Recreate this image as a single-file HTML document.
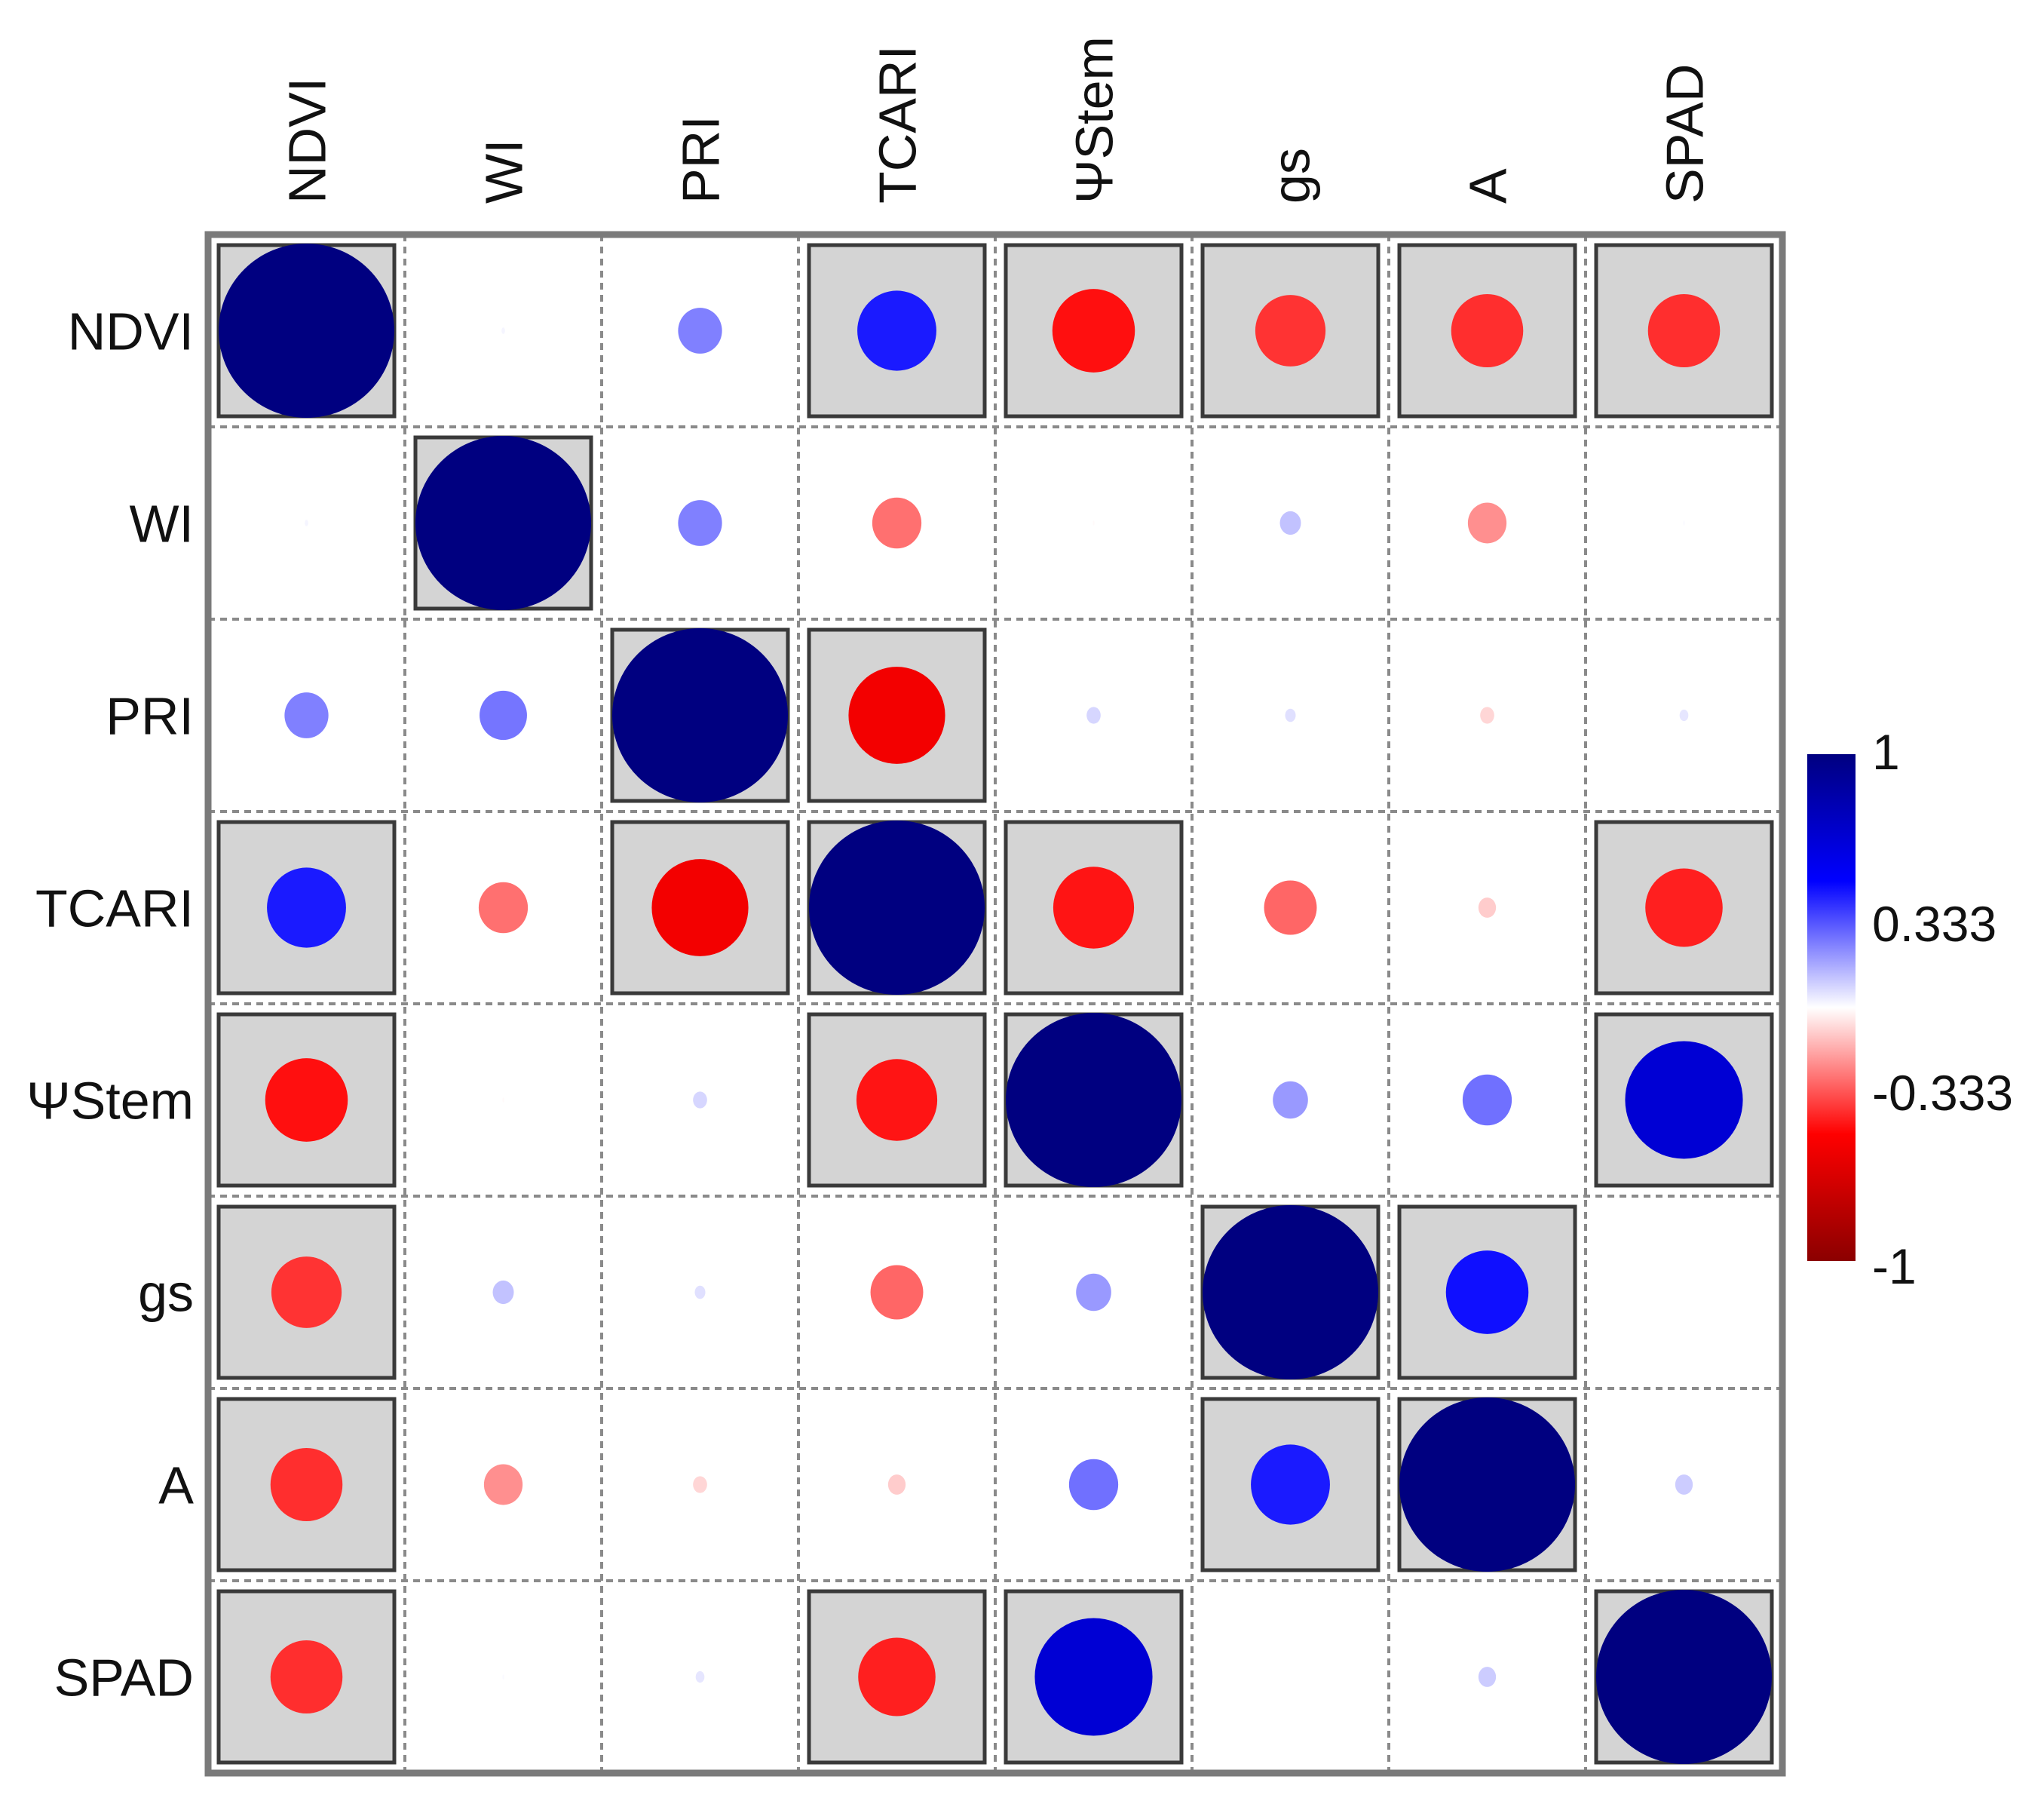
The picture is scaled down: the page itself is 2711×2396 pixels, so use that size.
<!DOCTYPE html>
<html><head><meta charset="utf-8"><style>
html,body{margin:0;padding:0;background:#fff;}
svg{display:block;}
text{font-family:"Liberation Sans",Arial,sans-serif;fill:#111;}
</style></head><body>
<svg id="chart" width="2711" height="2396" viewBox="0 0 2711 2396" xmlns="http://www.w3.org/2000/svg"></svg>
<script>
const labels = ["NDVI","WI","PRI","TCARI","\u03A8Stem","gs","A","SPAD"];
const rowNDVI  = [1, 0.02, 0.25, 0.45, -0.47, -0.40, -0.41, -0.41];
const rowWI    = [0.02, 1, 0.25, -0.28, -0.01, 0.12, -0.22, 0.01];
const rowPRI   = [0.25, 0.27, 1, -0.55, 0.08, 0.06, -0.08, 0.05];
const rowTCARI = [0.45, -0.28, -0.55, 1, -0.46, -0.30, -0.10, -0.44];
const rowStem  = [-0.47, -0.01, 0.08, -0.46, 1, 0.20, 0.28, 0.67];
const rowGs    = [-0.40, 0.12, 0.06, -0.30, 0.20, 1, 0.47, 0.00];
const rowA     = [-0.41, -0.22, -0.08, -0.10, 0.28, 0.45, 1, 0.10];
const rowSPAD  = [-0.41, 0.01, 0.05, -0.44, 0.67, 0.00, 0.10, 1];
const sigNDVI  = [1,0,0,1,1,1,1,1];
const sigWI    = [0,1,0,0,0,0,0,0];
const sigPRI   = [0,0,1,1,0,0,0,0];
const sigTCARI = [1,0,1,1,1,0,0,1];
const sigStem  = [1,0,0,1,1,0,0,1];
const sigGs    = [1,0,0,0,0,1,1,0];
const sigA     = [1,0,0,0,0,1,1,0];
const sigSPAD  = [1,0,0,1,1,0,0,1];
const legendTicks = [1, 0.333, -0.333, -1];
const legendTickLabels = ["1","0.333","-0.333","-1"];

const corr = [rowNDVI,rowWI,rowPRI,rowTCARI,rowStem,rowGs,rowA,rowSPAD];
const sig = [sigNDVI,sigWI,sigPRI,sigTCARI,sigStem,sigGs,sigA,sigSPAD];

const NS="http://www.w3.org/2000/svg";
const svg=document.getElementById('chart');
const X0=276, Y0=311, CW=261, CH=255, N=labels.length;
const xPos=i=>X0+i*CW, yPos=i=>Y0+i*CH;
function mk(tag,attrs,parent){const e=document.createElementNS(NS,tag);for(const k in attrs)e.setAttribute(k,attrs[k]);(parent||svg).appendChild(e);return e;}
const stops=[[-1,[139,0,0]],[-0.5,[255,0,0]],[0,[255,255,255]],[0.5,[0,0,255]],[1,[0,0,128]]];
function color(v){v=Math.max(-1,Math.min(1,v));for(let i=0;i<stops.length-1;i++){const a=stops[i],b=stops[i+1];if(v>=a[0]&&v<=b[0]){const t=(v-a[0])/(b[0]-a[0]);const c=a[1].map((x,j)=>Math.round(x+(b[1][j]-x)*t));return `rgb(${c[0]},${c[1]},${c[2]})`;}}return '#fff';}

const bg=mk('rect',{x:X0,y:Y0,width:CW*N,height:CH*N,fill:'#fff'});



for(let k=1;k<N;k++){
  const gv=mk('line',{x1:xPos(k),y1:Y0,x2:xPos(k),y2:Y0+CH*N,stroke:'#8a8a8a','stroke-width':4,'stroke-dasharray':'9 7'});
  
  
  const gh=mk('line',{x1:X0,y1:yPos(k),x2:X0+CW*N,y2:yPos(k),stroke:'#8a8a8a','stroke-width':4,'stroke-dasharray':'9 7'});
  
  
}

for(let i=0;i<N;i++){for(let j=0;j<N;j++){
  const cx=xPos(j)+CW/2, cy=yPos(i)+CH/2;
  const bw=CW-28, bh=CH-28;
  if(sig[i][j]){
    const b=mk('rect',{x:cx-bw/2,y:cy-bh/2,width:bw,height:bh,fill:'#d4d4d4',stroke:'#3a3a3a','stroke-width':5});
    
    
  }
  const v=corr[i][j];
  const e=mk('ellipse',{cx:cx,cy:cy,rx:Math.abs(v)*bw/2,ry:Math.abs(v)*bh/2+2,fill:color(v)});
  
  
}}

const fr=mk('rect',{x:X0,y:Y0,width:CW*N,height:CH*N,fill:'none',stroke:'#7a7a7a','stroke-width':9});



labels.forEach((l,i)=>{
  const t=mk('text',{x:257,y:yPos(i)+CH/2+25,'text-anchor':'end','font-size':70});
  t.textContent=l;
  
  
  const cx=xPos(i)+CW/2+25;
  const c=mk('text',{x:0,y:0,'text-anchor':'start','font-size':70,transform:`translate(${cx},270) rotate(-90)`});
  c.textContent=l;
  
  
});

const LX=2397, LW=64, LY0=1000, LY1=1672;
const defs=mk('defs',{});
const grad=mk('linearGradient',{id:'lg',x1:0,y1:0,x2:0,y2:1},defs);
for(let k=0;k<=20;k++){const v=1-k/10;mk('stop',{offset:(k/20),'stop-color':color(v)},grad);}
const lb=mk('rect',{x:LX,y:LY0,width:LW,height:LY1-LY0,fill:'url(#lg)'});


const ly=v=>LY0+(1-v)/2*(LY1-LY0);
legendTicks.forEach((v,k)=>{
  let y=ly(v)+24; if(k===0)y=ly(v)+20; if(k===3)y=ly(v)+30;
  const t=mk('text',{x:2483,y:y,'font-size':66});
  t.textContent=legendTickLabels[k];
  
  
});
</script>
</body></html>
